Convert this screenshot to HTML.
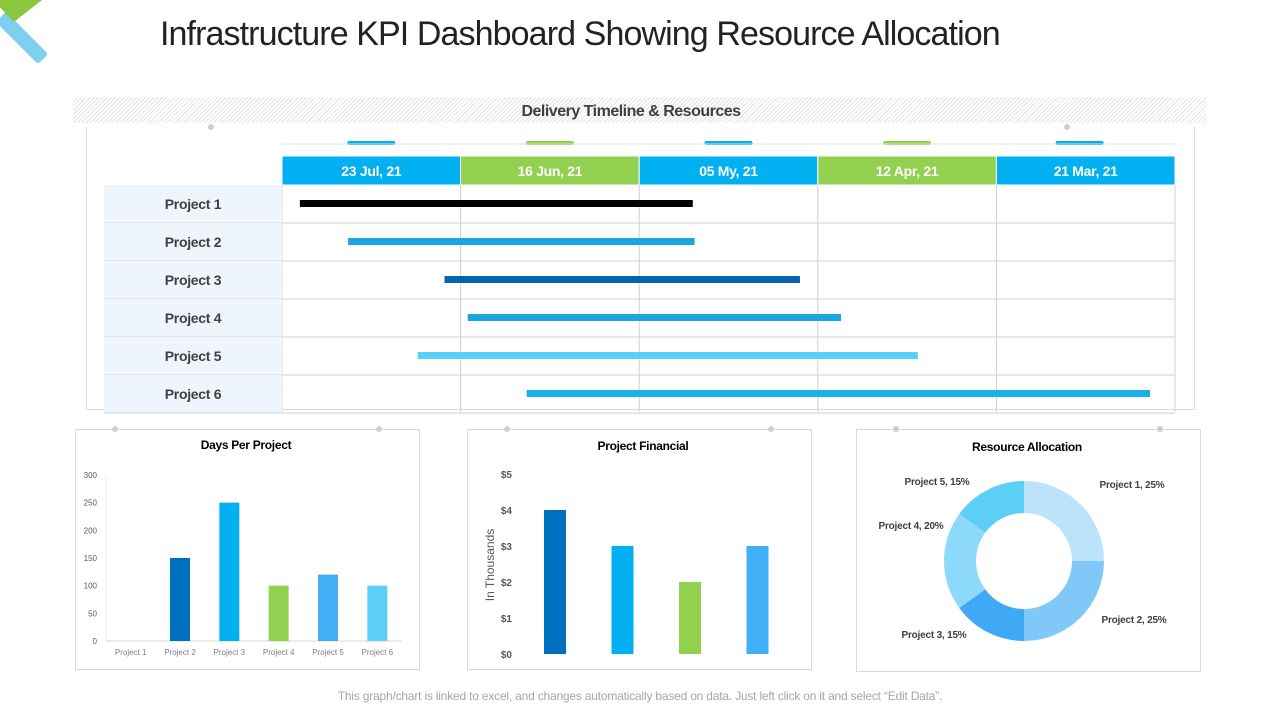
<!DOCTYPE html>
<html><head><meta charset="utf-8"><style>
body{margin:0;width:1280px;height:720px;background:#fff;font-family:"Liberation Sans",sans-serif;position:relative;overflow:hidden}
.abs{position:absolute}
.panel{position:absolute;border:1px solid #d9d9d9;background:#fff}
.t{font-weight:bold;color:#404040;text-anchor:middle}
</style></head><body>
<svg class="abs" style="left:0;top:0" width="60" height="75">
<polygon points="0,22 20,42 38,60 44,54 26,36 6,16" fill="#7fd0f0" stroke="#7fd0f0" stroke-width="6" stroke-linejoin="round"/>
<polygon points="0,3 14,18 50,-10 40,-20" fill="#8cc63f" stroke="#8cc63f" stroke-width="6" stroke-linejoin="round"/>
<polygon points="8,12 14,18 28,32 22,26" fill="#4dbfa0"/>
</svg>
<div class="abs" style="left:160px;top:15px;font-size:34px;color:#222;letter-spacing:-0.9px;white-space:nowrap">Infrastructure KPI Dashboard Showing Resource Allocation</div>
<div class="abs" style="left:73px;top:97px;width:1134px;height:26px;background:repeating-linear-gradient(135deg,#e4e4e4 0 1px,#fff 1px 3px)"></div>
<div class="abs" style="left:73px;top:103px;width:1116px;text-align:center;font-weight:bold;font-size:16px;letter-spacing:-0.5px;color:#404040">Delivery Timeline &amp; Resources</div>
<div class="panel" style="left:86px;top:127px;width:1107px;height:282px;border-top:none;border-right:1px solid #e0e0e0"></div>
<svg id="gantt" class="abs" style="left:0;top:0" width="1280" height="420"></svg>
<div class="panel" style="left:75px;top:429px;width:343px;height:239px"></div>
<div class="panel" style="left:467px;top:429px;width:343px;height:239px"></div>
<div class="panel" style="left:856px;top:429px;width:343px;height:241px"></div>
<svg id="charts" class="abs" style="left:0;top:0" width="1280" height="720"></svg>
<div class="abs" style="left:0;width:1280px;top:689px;text-align:center;font-size:12px;letter-spacing:-0.2px;color:#a6a6a6">This graph/chart is linked to excel, and changes automatically based on data. Just left click on it and select “Edit Data”.</div>
<script>
const ganttDates=["23 Jul, 21","16 Jun, 21","05 My, 21","12 Apr, 21","21 Mar, 21"];
const ganttProjects=["Project 1","Project 2","Project 3","Project 4","Project 5","Project 6"];
const ganttStart=[0.10,0.37,0.91,1.04,0.76,1.37];
const ganttEnd=[2.30,2.31,2.90,3.13,3.56,4.86];
const ganttColors=["#000000","#1aa7e0","#0563b0","#1aa7e0","#5bcff5","#1ab0e8"];
const daysCats=["Project 1","Project 2","Project 3","Project 4","Project 5","Project 6"];
const daysVals=[0,150,250,100,120,100];
const daysTicks=[0,50,100,150,200,250,300];
const finVals=[4,3,2,3];
const finTicks=["$0","$1","$2","$3","$4","$5"];
const pieLabels=["Project 1, 25%","Project 2, 25%","Project 3, 15%","Project 4, 20%","Project 5, 15%"];
const pieVals=[25,25,15,20,15];
const NS="http://www.w3.org/2000/svg";
function mk(p,tag,a,txt){const e=document.createElementNS(NS,tag);for(const k in a)e.setAttribute(k,a[k]);if(txt!=null)e.textContent=txt;p.appendChild(e);return e;}
const g=document.getElementById('gantt');
const gx0=282,colW=178.6,hy=156,rowH=38,ry0=185;
const gX=v=>gx0+v*colW;
ganttDates.forEach((d,i)=>{
 const c=i%2?"#92d050":"#00b0f0";
 let r=mk(g,'rect',{x:gX(i),y:hy,width:colW,height:29,fill:c,stroke:'#fff','stroke-width':1});
 
 let t=mk(g,'text',{x:gX(i)+colW/2,y:hy+20,'font-size':14,'font-weight':'bold',fill:'#fff','text-anchor':'middle','letter-spacing':'-0.3'},d);
 
 let m=mk(g,'rect',{x:gX(i)+colW/2-24+(i==4?-6:0),y:141,width:48,height:4,rx:2,fill:c});
 
});
mk(g,'line',{x1:282,y1:144,x2:1175,y2:144,stroke:'#e0e0e0'});
for(let i=0;i<=5;i++)mk(g,'line',{x1:gX(i),y1:185,x2:gX(i),y2:412,stroke:'#d0d0d0'});
ganttProjects.forEach((p,i)=>{
 const y=ry0+i*rowH;
 let bg=mk(g,'rect',{x:104,y:y,width:178,height:rowH,fill:'#eef5fc'});
 
 mk(g,'line',{x1:104,y1:y+rowH,x2:1175,y2:y+rowH,stroke:'#d0d0d0'});
 let t=mk(g,'text',{x:193,y:y+24,'font-size':14,'font-weight':'bold',fill:'#404040','text-anchor':'middle','letter-spacing':'-0.3'},p);
 
 let b=mk(g,'rect',{x:gX(ganttStart[i]),y:y+15,width:gX(ganttEnd[i])-gX(ganttStart[i]),height:7,fill:ganttColors[i]});
 
});
const c=document.getElementById('charts');
[[211,127],[1067,127],[115,429],[379,429],[507,429],[771,429],[896,429],[1160,429]].forEach(p=>mk(c,'circle',{cx:p[0],cy:p[1],r:3,fill:'#cfcfcf'}));
mk(c,'text',{x:246,y:449,'font-size':12,'letter-spacing':'-0.3',class:'t'},"Days Per Project");
const dy0=641,dy1=475,dx0=106,dx1=402;
const dY=v=>dy0-(v/300)*(dy0-dy1);
const dBand=(dx1-dx0)/daysCats.length;
const dCol=["#0070c0","#0070c0","#00b0f0","#92d050","#41aef5","#5bcff5"];
daysTicks.forEach(t=>{let e=mk(c,'text',{x:97,y:dY(t)+3,'font-size':8,fill:'#595959','text-anchor':'end'},t);});
mk(c,'line',{x1:dx0,y1:dy0,x2:dx1,y2:dy0,stroke:'#d9d9d9'});
mk(c,'line',{x1:dx0,y1:dy1,x2:dx0,y2:dy0,stroke:'#eeeeee'});
daysCats.forEach((cat,i)=>{
 const cx=dx0+dBand*(i+0.5);
 let b=mk(c,'rect',{x:cx-10,y:dY(daysVals[i]),width:20,height:dy0-dY(daysVals[i]),fill:dCol[i]});
 
 let t=mk(c,'text',{x:cx,y:655,'font-size':8,fill:'#7f7f7f','text-anchor':'middle'},cat);
 
});
mk(c,'text',{x:643,y:450,'font-size':12,'letter-spacing':'-0.3',class:'t'},"Project Financial");
const fy0=654,fy1=474;
const fY=v=>fy0-(v/5)*(fy0-fy1);
finTicks.forEach((t,i)=>{let e=mk(c,'text',{x:512,y:fY(i)+4,'font-size':10,'font-weight':'bold',fill:'#595959','text-anchor':'end'},t);});
let yt=mk(c,'text',{x:494,y:565,'font-size':12,fill:'#595959','text-anchor':'middle',transform:'rotate(-90 494 565)'},"In Thousands");

const fCol=["#0070c0","#00b0f0","#92d050","#41aef5"];
finVals.forEach((v,i)=>{const cx=555+i*67.5;
 let b=mk(c,'rect',{x:cx-11,y:fY(v),width:22,height:fy0-fY(v),fill:fCol[i]});
 });
mk(c,'text',{x:1027,y:451,'font-size':12,'letter-spacing':'-0.3',class:'t'},"Resource Allocation");
const pc=["#bde3fb","#7fc8f8","#3fa9f5","#8dd9fb","#5bcff5"];
const cx=1024,cy=561,R=80,r=48;
const lp=[[1132,488],[1134,623],[934,638],[911,529],[937,485]];
let tot=pieVals.reduce((a,b)=>a+b,0),a0=-Math.PI/2;
pieVals.forEach((v,i)=>{const a1=a0+v/tot*2*Math.PI;const L=(a1-a0)>Math.PI?1:0;
 const P=(rr,a)=>[cx+rr*Math.cos(a),cy+rr*Math.sin(a)];
 const [x1,y1]=P(R,a0),[x2,y2]=P(R,a1),[x3,y3]=P(r,a1),[x4,y4]=P(r,a0);
 let s=mk(c,'path',{d:`M${x1},${y1}A${R},${R} 0 ${L} 1 ${x2},${y2}L${x3},${y3}A${r},${r} 0 ${L} 0 ${x4},${y4}Z`,fill:pc[i]});
 
 let t=mk(c,'text',{x:lp[i][0],y:lp[i][1],'font-size':10,'font-weight':'bold',fill:'#404040','text-anchor':'middle','letter-spacing':'-0.2'},pieLabels[i]);
 
 a0=a1;});
</script>
</body></html>
